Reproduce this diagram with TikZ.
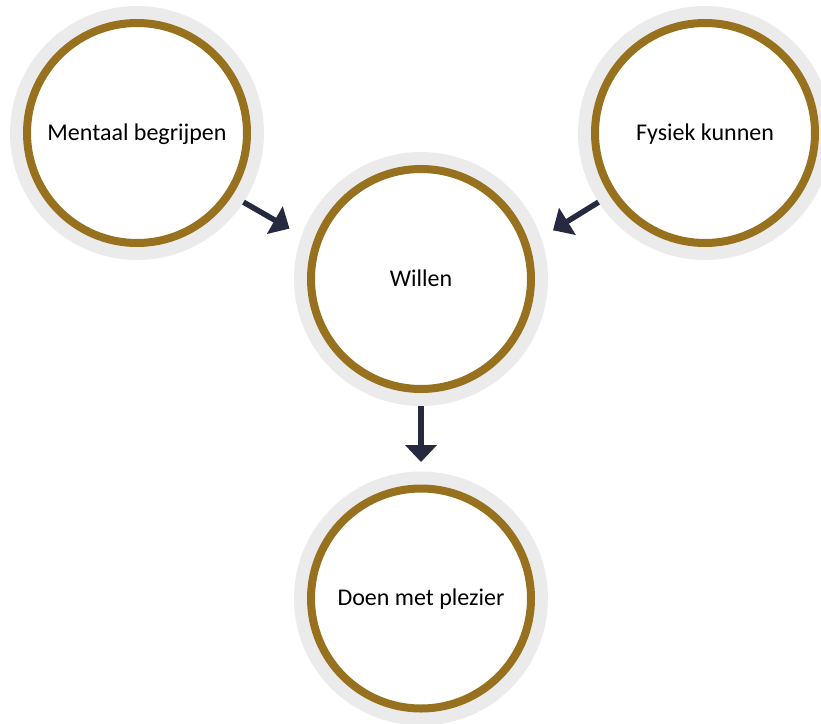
\documentclass[tikz,border=0pt]{standalone}
\usepackage{fontspec}
\setmainfont{Carlito}
\usetikzlibrary{arrows.meta}
\definecolor{ringgold}{HTML}{98711F}
\definecolor{ringgrey}{HTML}{EBEBEB}
\definecolor{arrownavy}{HTML}{262A40}
\tikzset{
  ringnode/.style={circle, inner sep=0pt, minimum size=220pt, outer sep=17pt,
    preaction={draw=ringgrey, line width=34pt},
    fill=white, draw=ringgold, line width=8pt,
    font=\fontsize{24}{29}\selectfont, text=black, text depth=2pt},
  flowarrow/.style={draw=arrownavy, line width=5.5pt,
    -{Triangle[length=17pt,width=31pt]}}
}
\begin{document}
\begin{tikzpicture}[x=1pt,y=-1pt]
\useasboundingbox (0,0) rectangle (821,723);
\node[ringnode] (m) at (137,133) {Mentaal begrijpen};
\node[ringnode] (f) at (705,133) {Fysiek kunnen};
\node[ringnode] (w) at (421,279) {Willen};
\node[ringnode] (d) at (421,598.5) {Doen met plezier};
\draw[flowarrow, shorten >=14pt] (m.-33) -- (w.160.5);
\draw[flowarrow, shorten >=14pt] (f.213) -- (w.19.5);
\draw[flowarrow, shorten >=9.5pt] (w) -- (d);
\end{tikzpicture}
\end{document}
